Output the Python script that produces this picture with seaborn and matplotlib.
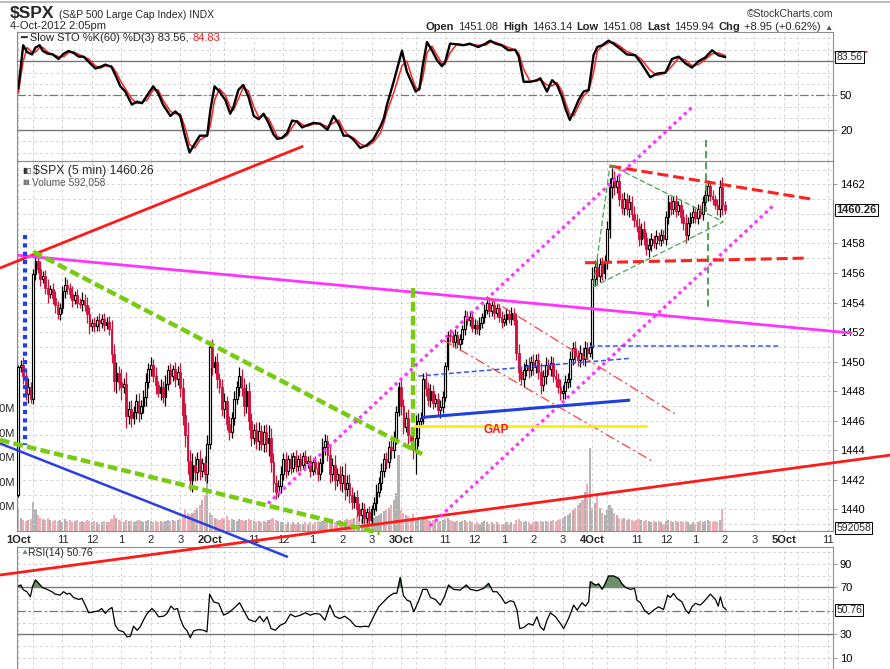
import numpy as np
import matplotlib
matplotlib.use("Agg")
import matplotlib.pyplot as plt
from matplotlib.lines import Line2D
import seaborn as sns

# ---- 5-minute bars, 1 Oct 9:30 .. 4 Oct 2:05pm ----
first_open = 1441.0
closes = [
    # 1 Oct
    1449.6, 1449.8, 1449.0, 1447.8, 1448.3, 1447.5, 1455.9, 1456.8, 1456.3, 1455.6,
    1455.8, 1455.0, 1454.6, 1454.9, 1454.3, 1453.8, 1453.2, 1453.6, 1454.8, 1455.2,
    1455.0, 1454.6, 1454.2, 1454.5, 1454.0, 1453.9, 1454.2, 1453.8, 1453.2, 1452.4,
    1452.6, 1452.4, 1452.8, 1452.6, 1452.9, 1452.5, 1452.7, 1452.2, 1450.5, 1448.7,
    1449.2, 1448.6, 1448.3, 1448.5, 1446.3, 1446.8, 1446.2, 1446.6, 1447.3, 1446.5,
    1447.0, 1447.6, 1448.6, 1449.5, 1449.8, 1449.0, 1448.4, 1447.9, 1448.3, 1447.6,
    1448.5, 1449.4, 1449.0, 1449.5, 1448.8, 1449.3, 1448.2, 1446.4, 1445.0, 1443.3,
    1442.0, 1443.0, 1442.5, 1443.4, 1442.6, 1443.1, 1442.4, 1444.4,
    # 2 Oct
    1451.0, 1449.6, 1450.0, 1448.8, 1448.3, 1446.8, 1447.3, 1445.8, 1445.2, 1446.2,
    1447.5, 1448.3, 1449.0, 1448.2, 1447.0, 1448.0, 1446.0, 1444.8, 1445.4, 1444.6,
    1445.3, 1444.4, 1445.2, 1444.5, 1444.8, 1443.2, 1441.8, 1441.2, 1441.6, 1442.4,
    1443.4, 1442.6, 1443.4, 1442.8, 1443.6, 1442.9, 1443.4, 1443.0, 1443.6, 1443.1,
    1443.3, 1442.6, 1443.2, 1442.8, 1442.4, 1443.1, 1444.2, 1444.6, 1443.7, 1442.4,
    1443.0, 1442.0, 1442.4, 1441.8, 1442.3, 1441.4, 1441.8, 1441.0, 1440.5, 1440.8,
    1440.0, 1439.6, 1440.0, 1439.4, 1439.8, 1439.3, 1440.0, 1440.4, 1441.2, 1441.8,
    1442.6, 1443.4, 1443.2, 1444.2, 1444.0, 1444.8, 1446.6, 1448.3,
    # 3 Oct
    1447.0, 1445.6, 1446.2, 1445.0, 1444.6, 1444.0, 1444.8, 1446.0, 1446.2, 1448.8,
    1448.2, 1447.4, 1448.0, 1447.2, 1447.5, 1446.7, 1446.9, 1447.6, 1449.7, 1451.8,
    1451.7, 1451.3, 1451.8, 1451.2, 1451.5, 1452.2, 1453.1, 1452.8, 1453.0, 1452.3,
    1452.5, 1452.2, 1452.6, 1453.0, 1453.5, 1454.0, 1453.4, 1453.8, 1453.3, 1453.6,
    1453.0, 1452.7, 1452.9, 1453.2, 1452.9, 1453.3, 1452.8, 1450.6, 1449.3, 1448.8,
    1449.4, 1449.8, 1449.4, 1450.0, 1449.6, 1450.1, 1449.3, 1448.4, 1449.0, 1449.8,
    1449.5, 1449.9, 1449.0, 1448.8, 1448.3, 1447.9, 1448.0, 1448.6, 1448.8, 1450.2,
    1450.9, 1450.4, 1450.1, 1450.6, 1450.2, 1450.9, 1450.6, 1451.0,
    # 4 Oct
    1455.6, 1456.4, 1455.8, 1456.6, 1456.0, 1456.8, 1459.0, 1461.8, 1462.4, 1461.8,
    1462.2, 1461.0, 1460.4, 1461.0, 1460.3, 1460.8, 1460.0, 1459.6, 1459.2, 1458.3,
    1459.0, 1458.4, 1457.6, 1457.9, 1458.3, 1458.0, 1458.5, 1458.2, 1458.6, 1458.3,
    1459.8, 1460.8, 1460.3, 1460.9, 1460.2, 1460.6, 1459.8, 1459.4, 1458.6, 1459.4,
    1459.8, 1460.1, 1459.7, 1460.3, 1460.0, 1460.8, 1461.3, 1461.9, 1461.2, 1461.0,
    1460.6, 1460.3, 1461.8, 1460.6, 1460.26,
]
wicks = [
    0.2, 0.3, 0.5, 0.4, 0.6, 0.3, 0.4, 0.4, 0.3, 0.5,
    0.3, 0.4, 0.6, 0.3, 0.4, 0.5, 0.3, 0.4, 0.3, 0.5,
    0.4, 0.3, 0.5, 0.3, 0.4, 0.3, 0.5, 0.4, 0.6, 0.5,
    0.3, 0.4, 0.3, 0.5, 0.3, 0.4, 0.3, 0.4, 0.6, 0.7,
    0.8, 0.5, 0.9, 0.4, 0.8, 0.5, 0.6, 0.4, 0.5, 0.6,
    0.4, 0.5, 0.6, 0.4, 0.5, 0.4, 0.6, 0.3, 0.5, 0.4,
    0.6, 0.4, 0.5, 0.3, 0.5, 0.4, 0.6, 0.7, 0.8, 0.9,
    0.7, 0.8, 0.6, 0.5, 0.6, 0.4, 0.5, 0.6,
    0.3, 0.5, 0.4, 0.6, 0.4, 0.5, 0.6, 0.4, 0.5, 0.4,
    0.5, 0.4, 0.6, 0.5, 0.7, 0.5, 0.6, 0.5, 0.4, 0.5,
    0.6, 0.4, 0.5, 0.6, 0.9, 0.7, 0.6, 0.5, 0.4, 0.5,
    0.4, 0.5, 0.3, 0.4, 0.3, 0.4, 0.3, 0.4, 0.3, 0.4,
    0.3, 0.4, 0.3, 0.4, 0.5, 0.4, 0.6, 0.5, 0.4, 0.6,
    0.5, 0.7, 0.4, 0.5, 0.6, 0.8, 0.5, 0.6, 0.5, 0.4,
    0.5, 0.4, 0.5, 0.4, 0.3, 0.4, 0.3, 0.4, 0.5, 0.4,
    0.5, 0.4, 0.5, 0.4, 0.6, 0.5, 0.4, 0.3,
    0.6, 0.5, 0.4, 0.6, 0.5, 0.6, 1.6, 0.5, 0.4, 0.4,
    0.5, 0.4, 0.5, 0.4, 0.3, 0.4, 0.5, 0.4, 0.3, 0.3,
    0.4, 0.3, 0.4, 0.3, 0.4, 0.3, 0.4, 0.3, 0.4, 0.3,
    0.4, 0.3, 0.4, 0.3, 0.4, 0.3, 0.4, 0.3, 0.4, 0.3,
    0.3, 0.4, 0.3, 0.4, 0.3, 0.4, 0.3, 0.5, 0.6, 0.4,
    0.5, 0.4, 0.5, 0.4, 0.5, 0.4, 0.5, 0.6, 0.4, 0.5,
    0.4, 0.5, 0.4, 0.5, 0.4, 0.5, 0.4, 0.5, 0.4, 0.5,
    0.4, 0.5, 0.4, 0.5, 0.4, 0.5, 0.4, 0.3,
    0.8, 0.5, 0.6, 0.4, 0.5, 0.4, 0.5, 0.6, 0.7, 0.5,
    0.4, 0.5, 0.4, 0.5, 0.4, 0.5, 0.4, 0.5, 0.4, 0.5,
    0.4, 0.5, 0.4, 0.5, 0.4, 0.3, 0.4, 0.3, 0.4, 0.3,
    0.4, 0.5, 0.4, 0.3, 0.4, 0.3, 0.4, 0.5, 0.6, 0.4,
    0.3, 0.4, 0.3, 0.4, 0.3, 0.4, 0.3, 0.4, 0.3, 0.4,
    0.3, 0.4, 0.5, 0.7, 0.3,
]
volumes_m = [
    8.5, 5.5, 4.5, 4.0, 4.5, 5.0, 12.0, 9.0, 6.5, 5.5,
    5.0, 4.5, 5.5, 4.5, 4.0, 4.5, 4.0, 4.5, 3.5, 5.0,
    4.0, 4.5, 3.5, 4.0, 4.5, 3.5, 4.0, 3.5, 4.5, 4.0,
    3.5, 4.0, 3.5, 3.0, 3.5, 4.0, 3.5, 3.5, 5.0, 6.5,
    5.5, 4.5, 4.0, 3.5, 4.5, 4.0, 4.0, 3.5, 4.0, 4.5,
    4.0, 3.5, 4.0, 4.5, 4.0, 3.5, 4.0, 3.5, 4.0, 3.5,
    4.0, 4.5, 4.0, 4.5, 4.0, 4.5, 5.0, 6.5, 8.5, 7.5,
    6.5, 7.5, 8.5, 9.5, 10.5, 12.5, 14.5, 29.0,
    7.5, 6.5, 5.5, 5.0, 4.5, 5.5, 5.0, 6.0, 4.5, 5.0,
    4.5, 4.0, 5.0, 4.5, 4.0, 4.5, 5.0, 4.5, 4.0, 3.5,
    4.0, 3.5, 4.0, 3.5, 4.5, 5.0, 5.5, 4.5, 4.0, 3.5,
    3.5, 3.0, 3.5, 3.0, 3.5, 3.0, 3.5, 3.0, 3.0, 3.5,
    3.0, 3.5, 3.0, 3.5, 4.0, 3.5, 4.0, 3.5, 4.0, 4.5,
    4.0, 3.5, 4.0, 4.5, 4.0, 4.5, 5.0, 4.5, 5.0, 5.5,
    6.0, 5.5, 5.0, 5.5, 5.0, 4.5, 5.0, 5.5, 6.0, 6.5,
    7.5, 8.0, 8.5, 9.5, 10.5, 12.5, 15.5, 31.0,
    8.5, 7.5, 6.5, 6.0, 5.5, 7.0, 5.5, 5.0, 4.5, 5.5,
    5.0, 4.5, 4.0, 4.5, 4.0, 3.5, 4.0, 4.5, 5.0, 5.5,
    4.5, 4.0, 3.5, 4.0, 3.5, 4.0, 4.5, 3.5, 4.0, 3.5,
    3.0, 3.5, 3.0, 3.5, 4.0, 3.5, 3.0, 3.5, 3.0, 3.5,
    3.0, 2.5, 3.0, 3.5, 3.0, 3.5, 3.0, 4.5, 5.0, 4.0,
    3.5, 4.0, 3.5, 3.0, 3.5, 4.0, 3.5, 4.0, 3.5, 4.0,
    3.5, 4.0, 4.5, 4.0, 4.5, 5.0, 5.5, 6.0, 6.5, 7.5,
    8.5, 9.5, 10.5, 11.5, 12.5, 16.0, 19.0, 34.0,
    9.5, 11.5, 15.0, 9.5, 7.5, 6.5, 8.5, 10.5, 9.5, 7.5,
    6.5, 5.5, 5.0, 5.5, 4.5, 5.0, 4.5, 4.0, 4.5, 5.0,
    4.5, 4.0, 4.5, 4.0, 3.5, 4.0, 3.5, 4.0, 3.5, 3.0,
    4.0, 4.5, 4.0, 3.5, 4.0, 3.5, 4.0, 3.5, 4.0, 3.5,
    3.0, 3.5, 3.0, 3.5, 4.0, 3.5, 4.0, 4.5, 4.0, 3.5,
    4.0, 3.5, 4.5, 9.0, 0.592058,
]

# ---- indicators (bar position, value) ----
sto_bars = [
    0, 2, 3.6, 5.6, 7, 8.7, 10, 12, 14, 16.4, 18.5, 20.5,
    22.6, 24.6, 26.6, 28.7, 31.4, 33.4, 35.5, 38, 40, 41.6, 43.6, 46.3,
    48.4, 50.4, 52.5, 55, 57, 59, 62, 64, 66, 68, 69.8, 72,
    74, 77, 78.3, 80, 82, 84.4, 86.4, 87.7, 89.7, 91.7, 93.8, 96,
    98, 100, 102, 104, 105.5, 107.5, 109.6, 111.6, 113.6, 115.7, 117.8, 120.4,
    123, 126, 128.5, 130.6, 132.6, 134.6, 136.6, 139.4, 142, 144.7, 147.6, 149,
    150.3, 153, 156.4, 158.4, 160.5, 162, 163.5, 165, 166.6, 168.6, 170.7, 172.7,
    174, 176, 178.8, 181.5, 184, 187.5, 190.4, 192.4, 194.5, 197, 199.8, 202.6,
    204, 206, 208.7, 211.4, 212.8, 215.5, 217.6, 219.6, 221.6, 223, 224.8, 226.4,
    228.4, 230.4, 232.5, 234.5, 236, 238, 240.6, 242.6, 245.3, 248, 251.5, 254,
    257.6, 260.4, 263.8, 266.5, 269.2, 272, 274.6, 277.3, 280, 282.8, 285.4, 288.2,
]
sto_k = [
    56, 94, 88, 86, 92, 94, 89, 86.6, 86, 82, 86.6, 89,
    87.2, 84, 84, 79.4, 73.6, 75, 77, 75, 66, 58, 53.4, 42,
    44.6, 43.2, 50, 58, 52, 42, 32, 36, 32, 14, 0, 8,
    14.8, 14.8, 37.4, 58, 53.4, 46, 34, 40, 54.8, 59.2, 49, 32,
    29.2, 34, 26, 16, 12, 12.8, 17.2, 28, 27.2, 22, 24, 26,
    25.2, 20, 32, 25, 14.8, 14.8, 11.4, 4, 6.4, 11.4, 22.8, 30,
    42, 62, 89.2, 70.8, 60.6, 53.4, 56, 78, 96.8, 89.6, 80.8, 75.6,
    79.4, 95.4, 94.8, 94, 95.4, 92.4, 95.4, 98, 95.4, 94, 89.6, 90,
    84, 62, 62, 63.4, 65, 53.4, 63.4, 59.2, 49, 38.8, 28.6, 36,
    46, 53.4, 54.8, 85.2, 92.4, 94, 98, 95.4, 91, 86, 85.2, 78,
    66, 69.2, 70, 82, 84, 78, 74.4, 80, 83.2, 89.6, 85.2, 83.56,
]
sto_d = [
    52, 80, 92, 88, 88, 92, 92, 88, 86, 84, 84, 87.6,
    88, 86, 84, 82, 76, 74, 76, 76, 70, 63, 56, 47,
    43, 44, 46, 55, 55, 46, 36, 34, 34, 22, 7, 4,
    11, 14.8, 24, 46, 56, 50, 40, 37, 47, 57, 54, 40,
    31, 32, 30, 21, 14, 12.4, 15, 22, 28, 24.6, 23, 25,
    25.6, 22.6, 26, 28.6, 20, 14.8, 13, 7.6, 5.2, 9, 17, 26,
    36, 52, 76, 80, 65.6, 57, 54.6, 67, 87.4, 93.2, 85.2, 78,
    77.4, 87.4, 95, 94.4, 94.6, 94, 94, 96.6, 96.6, 94.6, 92, 90,
    87, 73, 62, 62.6, 64, 59.2, 58.4, 61.2, 54, 44, 33.6, 32,
    41, 49.6, 54, 70, 88.8, 93.2, 96, 96.6, 93.2, 88.6, 85.6, 81.6,
    72, 67.6, 69.6, 76, 83, 81, 76, 77.2, 81.6, 86.4, 87.4, 84.83,
]
rsi_bars = [
    0, 1, 2, 3.5, 4.9, 5.8, 7, 8.3, 9.7, 11.7,
    13.7, 15, 17, 18.5, 19.8, 21, 22.5, 24.6, 26, 27.3,
    28.7, 30.7, 32.7, 34, 35.5, 36.8, 38.2, 39.5, 40.9, 42.9,
    44.3, 45.7, 47, 48.4, 49.7, 51, 52.5, 54.5, 55.8, 57.2,
    59.2, 60.6, 62.2, 63.6, 64.9, 66, 67.4, 68.8, 70.1, 71.5,
    73.5, 75.5, 76.9, 78, 79.6, 81.7, 83.7, 85.7, 87.8, 90.2,
    91.8, 93.9, 96.6, 98.4, 100, 101.4, 103, 104.8, 106.8, 108.8,
    110.9, 112.9, 115, 117, 119, 121, 123, 125, 127, 129,
    131, 133, 135.3, 137.4, 139.4, 141.5, 142.8, 144.8, 146.9, 148.9,
    150.9, 153, 154.3, 155.7, 157, 158.5, 159.8, 161.2, 163.2, 164.9,
    166.6, 168, 170, 172, 173.7, 175.4, 177.4, 180.2, 182.6, 184.3,
    187, 189.7, 191.7, 193.5, 195.1, 196.8, 198.5, 200.6, 202, 203.3,
    204.4, 206, 208, 209.8, 211.4, 212.8, 214.2, 215.5, 216.9, 219,
    221, 222.3, 224.3, 226.4, 227.8, 229.8, 231.2, 232.5, 233.2, 235.2,
    236.6, 238, 239.3, 240.6, 242.7, 244.7, 246.1, 247.5, 249.5, 251.2,
    252.2, 253.6, 255.2, 257, 259, 261, 263, 264.7, 265.8, 267.1,
    268.5, 270.5, 271.9, 273.3, 274.6, 276, 278, 279.4, 282.1, 284.2,
    285.3, 286.2, 287.3, 288.6,
]
rsi_vals = [
    71, 72, 68, 66.3, 62, 70.6, 76.3, 73.4, 70, 68.3,
    66.3, 64.3, 63.4, 66.3, 64.3, 65, 61.4, 59.7, 60.6, 54.9,
    48.3, 49.1, 50, 52, 47.7, 51, 52.9, 37.7, 33.4, 32,
    27.7, 28.3, 36.9, 33.4, 36.3, 42, 47.7, 52, 49.1, 44.9,
    45.4, 47.7, 54, 51.1, 52, 43.4, 36.3, 32.9, 27.1, 32.9,
    34, 33.4, 32, 64.3, 57.7, 56.3, 46.3, 48.3, 52, 56.9,
    50.6, 42.6, 40.6, 45.4, 40.6, 44.9, 34.9, 33.4, 37.7, 39.7,
    47.1, 44.9, 46.3, 48.3, 46.3, 47.7, 47.1, 42, 54.9, 45.4,
    43.4, 45.4, 42, 36.9, 36.3, 36.9, 36.3, 44.9, 53.4, 57.7,
    62, 65, 65, 78.5, 63, 59, 58, 49.1, 58.5, 68.3,
    68.3, 61.4, 59.7, 54.9, 62, 72, 68.3, 67.7, 72, 68.3,
    67.1, 69.1, 73.4, 66.3, 66.3, 62, 56.3, 58.6, 57.7, 50.6,
    34.9, 35.7, 39.1, 37.7, 44.9, 36.3, 33.4, 42, 48.3, 44.9,
    39.1, 34.9, 43.4, 54.9, 50.6, 56.9, 54, 57.7, 74.9, 72,
    72.9, 68.3, 73.4, 79.7, 79.7, 77.7, 72.9, 70, 68.3, 69.1,
    59.1, 56.9, 50.6, 47.1, 50.6, 53.4, 51.1, 63.4, 61.4, 64.9,
    60.6, 57.7, 51.1, 47.7, 53.4, 56.3, 54.9, 57.7, 64.3, 59.7,
    54, 62, 53.4, 50.76,
]

day_labels = ['1Oct', '2Oct', '3Oct', '4Oct', '5Oct']
hour_labels = ['11', '12', '1', '2', '3']
bars_per_day = 78
price_ticks = list(range(1440, 1463, 2))
vol_ticks = [10, 20, 30, 40, 50]

# hand-drawn trendlines (bar position, price)
red_upper = ([-7.5, 116.2], [1456.33, 1464.59])
red_lower = ([-7.5, 355.5], [1435.55, 1443.67])
magenta_line = ([-0.3, 339.9], [1457.2, 1451.93])
green_upper = ([6.1, 164.6], [1457.44, 1443.74])
green_lower = ([-7.5, 147.4], [1444.69, 1438.39])
blue_lower = ([-7.5, 109.9], [1444.46, 1436.77])
blue_vertical = ([2.65, 2.65], [1458.57, 1444.35])
green_vertical = ([160.7, 160.7], [1454.98, 1443.8])
magenta_dots_upper = ([101.8, 275.1], [1440.39, 1467.3])
magenta_dots_lower = ([167.8, 308.5], [1438.87, 1460.67])
red_dashdot_a = ([190.9, 268.4], [1454.39, 1446.38])
red_dashdot_b = ([173.3, 258.9], [1451.45, 1443.22])
blue_dash_a = ([163.1, 249.4], [1449.02, 1450.22])
blue_dash_b = ([233.1, 310.5], [1451.05, 1451.05])
blue_support = ([164.5, 249.4], [1446.22, 1447.39])
gap_line = ([161.0, 256.2], [1445.66, 1445.66])
gap_label = (194.7, 1445.4)
red_dash_top = ([241.2, 324.1], [1463.24, 1460.98])
red_dash_bottom = ([231.0, 322.1], [1456.69, 1457.01])
green_triangle = ([241.2, 287.4, 234.4, 241.2], [1463.31, 1459.47, 1455.07, 1463.31])
green_mark_a = ([280.2, 280.2], [1465.0, 1460.14])
green_mark_b = ([281.3, 281.3], [1459.45, 1453.5])

# ---- style ----
sns.set_theme(style="white")
plt.rcParams['font.family'] = ['Liberation Sans', 'DejaVu Sans']
plt.rcParams['lines.scale_dashes'] = False

RED = '#d0103a'
GRID = '#cdcdcd'
FRAME = '#8c8c8c'
W, H = 890, 669
XMIN, XMAX = -0.53, 332.1

fig = plt.figure(figsize=(W / 100, H / 100), dpi=100)
fig.patch.set_facecolor('white')


def rect(l, t, r, b):
    return [l / W, 1 - b / H, (r - l) / W, (b - t) / H]


def fx(x):
    return x / W


def fy(y):
    return 1 - y / H


ax_sto = fig.add_axes(rect(17, 32, 833, 161))
ax_rsi = fig.add_axes(rect(17, 547, 833, 672))
ax_main = fig.add_axes(rect(17, 161, 833, 531))
ax_vol = ax_main.twinx()
ax_sto.set_zorder(0)
ax_rsi.set_zorder(0)
ax_vol.set_zorder(1)
ax_main.set_zorder(2)
ax_main.patch.set_visible(False)

# time grid: day starts + each full hour (10:00 .. 15:00)
hour_offsets = [(h * 60 - 570) // 5 for h in range(10, 16)]
grid_x = [d * bars_per_day + o for d in range(5) for o in [0] + hour_offsets]
grid_x = [g for g in grid_x if g < XMAX]
label_pos, label_txt = [], []
for d, name in enumerate(day_labels):
    label_pos.append(d * bars_per_day)
    label_txt.append(name)
    for off, hl in zip(hour_offsets[1:], hour_labels):
        if d * bars_per_day + off < XMAX:
            label_pos.append(d * bars_per_day + off)
            label_txt.append(hl)

for ax in (ax_sto, ax_main, ax_rsi):
    ax.set_xlim(XMIN, XMAX)
    for g in grid_x:
        ax.axvline(g, color=GRID, lw=0.6, dashes=(2, 2), zorder=0)
    for s in ax.spines.values():
        s.set_color(FRAME)
        s.set_linewidth(0.8)
    ax.yaxis.tick_right()
    ax.tick_params(axis='y', direction='out', length=3, width=0.6, color=FRAME,
                   labelsize=8, labelcolor='black', pad=2)
    ax.tick_params(axis='x', length=0)
    ax.grid(False)

# ---- Slow STO panel ----
ax_sto.set_ylim(-7.4, 105.6)
for lv in range(0, 101, 10):
    ax_sto.axhline(lv, color=GRID, lw=0.6, dashes=(2, 2), zorder=0)
ax_sto.axhline(80, color='#777777', lw=1.0, zorder=1)
ax_sto.axhline(20, color='#777777', lw=1.0, zorder=1)
ax_sto.axhline(50, color='#777777', lw=0.9, dashes=(6, 2, 1.5, 2), zorder=1)
sns.lineplot(x=sto_bars, y=sto_d, ax=ax_sto, color='#ff2020', lw=1.1, estimator=None, sort=False)
sns.lineplot(x=sto_bars, y=sto_k, ax=ax_sto, color='black', lw=1.7, estimator=None, sort=False)
# the 80 label sits under the value box, as on the original
ax_sto.set_yticks([20, 50, 80])
ax_sto.set_yticklabels(['20', '50', ''])
ax_sto.set_xticks([])
ax_sto.set_xlabel('')
ax_sto.set_ylabel('')

# ---- RSI panel ----
ax_rsi.set_ylim(-2.25, 104.5)
for lv in range(0, 101, 10):
    ax_rsi.axhline(lv, color=GRID, lw=0.6, dashes=(2, 2), zorder=0)
ax_rsi.axhline(70, color='#777777', lw=1.0, zorder=1)
ax_rsi.axhline(30, color='#777777', lw=1.0, zorder=1)
ax_rsi.axhline(50, color='#777777', lw=0.9, dashes=(6, 2, 1.5, 2), zorder=1)
rb = np.array(rsi_bars)
rv = np.array(rsi_vals)
ax_rsi.fill_between(rb, rv, 70, where=rv > 70, interpolate=True, color='#6d8f6d', zorder=2)
sns.lineplot(x=rsi_bars, y=rsi_vals, ax=ax_rsi, color='black', lw=0.9, estimator=None, sort=False)
ax_rsi.set_yticks([10, 30, 70, 90])
ax_rsi.set_xticks([])
ax_rsi.set_xlabel('')
ax_rsi.set_ylabel('')

# ---- price panel ----
c = np.array(closes)
o = np.concatenate([[first_open], c[:-1]])
w = np.array(wicks)
xb = np.arange(len(c))
up = c >= o
hi = np.maximum(o, c) + w
lo = np.minimum(o, c) - w
body = np.maximum(np.abs(c - o), 0.06)
bottom = np.minimum(o, c)

ax_main.set_ylim(1438.53, 1463.58)
for lv in range(1439, 1464):
    ax_main.axhline(lv, color=GRID, lw=0.6, dashes=(2, 2), zorder=0)

# volume underlay
vol = np.array(volumes_m)
ax_vol.set_ylim(0, 151)
ax_vol.bar(xb[up], vol[up], width=0.85, color='#b2b2b2', lw=0)
ax_vol.bar(xb[~up], vol[~up], width=0.85, color='#f2abb2', lw=0)
ax_vol.yaxis.tick_left()
ax_vol.set_yticks(vol_ticks)
ax_vol.set_yticklabels([f'{v}M' for v in vol_ticks])
ax_vol.tick_params(axis='y', length=0, labelsize=8, pad=1.5)
for s in ax_vol.spines.values():
    s.set_visible(False)
ax_vol.grid(False)
ax_main.yaxis.tick_right()

ax_main.vlines(xb[up], lo[up], hi[up], color='black', lw=0.9, zorder=3)
ax_main.vlines(xb[~up], lo[~up], hi[~up], color=RED, lw=0.9, zorder=3)
ax_main.bar(xb[up], body[up], bottom=bottom[up], width=0.72, facecolor='white',
            edgecolor='black', lw=0.85, zorder=4)
ax_main.bar(xb[~up], body[~up], bottom=bottom[~up], width=0.72, color=RED,
            edgecolor=RED, lw=0.6, zorder=4)


def trend(line, color, lw, dashes=None, z=5):
    xs, ys = line
    ln, = ax_main.plot(xs, ys, color=color, lw=lw, clip_on=False, zorder=z,
                       solid_capstyle='butt', dash_capstyle='butt')
    if dashes:
        ln.set_dashes(dashes)


trend(red_upper, '#ff1a1a', 2.0)
trend(red_lower, '#ff1a1a', 2.0)
trend(magenta_line, '#ff33ff', 2.0)
trend(blue_lower, '#2a3fe0', 1.8)
trend(green_upper, '#77cc11', 3.2, (7, 3))
trend(green_lower, '#77cc11', 3.2, (7, 3))
trend(blue_vertical, '#1f3df5', 3.0, (3, 3))
trend(green_vertical, '#77cc11', 3.2, (7, 3))
trend(magenta_dots_upper, '#ff33ff', 2.3, (2.3, 2.7))
trend(magenta_dots_lower, '#ff33ff', 2.3, (2.3, 2.7))
trend(red_dashdot_a, '#ff4040', 0.9, (7, 2.5, 1.5, 2.5))
trend(red_dashdot_b, '#ff4040', 0.9, (7, 2.5, 1.5, 2.5))
trend(blue_dash_a, '#3355ff', 1.1, (3.5, 2))
trend(blue_dash_b, '#3355ff', 1.1, (3.5, 2))
trend(blue_support, '#1f3fe0', 2.2)
trend(gap_line, '#ffee00', 2.0)
trend(red_dash_top, '#ff2020', 2.2, (8, 3.5))
trend(red_dash_bottom, '#ff2020', 2.2, (8, 3.5))
trend(green_triangle, '#44aa44', 0.9, (4, 2))
trend(green_mark_a, '#228822', 1.1, (5, 3))
trend(green_mark_b, '#228822', 1.1, (5, 3))
ax_main.text(*gap_label, 'GAP', color='#ff1a1a', weight='bold', fontsize=8.5,
             ha='center', va='center', zorder=6)

# the 1460 label is hidden by the last-price box, as on the original
ax_main.set_yticks(price_ticks)
ax_main.set_yticklabels(['' if p == 1460 else str(p) for p in price_ticks])
ax_main.set_xticks(label_pos)
ax_main.set_xticklabels(label_txt)
ax_main.tick_params(axis='x', length=0, labelsize=8, pad=3)
for t in ax_main.get_xticklabels():
    if 'Oct' in t.get_text():
        t.set_fontweight('bold')

# ---- value boxes on the right axis ----
box = dict(boxstyle='square,pad=0.12', fc='white', ec='black', lw=0.7)
ax_sto.plot([1.003, 1.042], [sto_d[-1] + 3.2] * 2, color='#ff2020', lw=1.2,
            transform=ax_sto.get_yaxis_transform(), clip_on=False, zorder=8)
ax_sto.annotate(f'{sto_k[-1]:.2f}', xy=(1.004, sto_k[-1]), xycoords=('axes fraction', 'data'),
                fontsize=7.5, va='center', ha='left', bbox=box, zorder=9)
ax_main.annotate(f'{closes[-1]:.2f}', xy=(1.004, closes[-1]), xycoords=('axes fraction', 'data'),
                 fontsize=8, weight='bold', va='center', ha='left', bbox=box, zorder=9,
                 annotation_clip=False)
ax_vol.annotate(f'{round(volumes_m[-1] * 1e6)}', xy=(1.004, 1.2),
                xycoords=('axes fraction', 'data'), fontsize=7.5, va='center', ha='left',
                bbox=box, zorder=9, annotation_clip=False)
ax_rsi.annotate(f'{rsi_vals[-1]:.2f}', xy=(1.004, rsi_vals[-1]), xycoords=('axes fraction', 'data'),
                fontsize=7.5, va='center', ha='left', bbox=box, zorder=9)

# ---- panel captions ----
t = fig.text(fx(20), fy(38), '━ Slow STO %K(60) %D(3) 83.56,', fontsize=8, va='center')
ax_sto.annotate('84.83', xy=(1, 0), xycoords=t, xytext=(2.5, 0), textcoords='offset points',
                va='bottom', ha='left', fontsize=8, color='#ff2020', annotation_clip=False)
fig.text(fx(22), fy(171), '▮▯', fontsize=6, va='center', color='#333333')
fig.text(fx(33), fy(171), '$SPX (5 min) 1460.26', fontsize=8.8, va='center')
fig.text(fx(22), fy(182), '▮▮', fontsize=5, va='center', color='#777777')
fig.text(fx(32), fy(182), 'Volume 592,058', fontsize=7.3, va='center', color='#555555')
fig.text(fx(20), fy(553), '▲', fontsize=6, va='center', color='#6d8f6d')
fig.text(fx(28), fy(553), 'RSI(14) 50.76', fontsize=7.5, va='center')

# ---- header ----
fig.add_artist(Line2D([0, 1], [fy(1.5), fy(1.5)], color='#b0b0b0', lw=1.2))
h = fig.text(fx(10), fy(21), '$SPX', fontsize=12.5, weight='bold', va='bottom')
ax_sto.annotate('(S&P 500 Large Cap Index) INDX', xy=(1, 0), xycoords=h, xytext=(3, 1),
                textcoords='offset points', va='bottom', ha='left', fontsize=7.5,
                annotation_clip=False)
fig.text(fx(833), fy(14), '©StockCharts.com', fontsize=7.5, ha='right', va='center', color='#333333')
fig.text(fx(10), fy(26), '4-Oct-2012 2:05pm', fontsize=8, va='center')

pieces = [('▲', dict(fontsize=6, color='#555555')),
          ('+8.95 (+0.62%)', dict(fontsize=8)),
          ('Chg', dict(fontsize=8, weight='bold')),
          ('1459.94', dict(fontsize=8)),
          ('Last', dict(fontsize=8, weight='bold')),
          ('1451.08', dict(fontsize=8)),
          ('Low', dict(fontsize=8, weight='bold')),
          ('1463.14', dict(fontsize=8)),
          ('High', dict(fontsize=8, weight='bold')),
          ('1451.08', dict(fontsize=8)),
          ('Open', dict(fontsize=8, weight='bold'))]
prev = fig.text(fx(833), fy(31.5), pieces[0][0], ha='right', va='bottom', **pieces[0][1])
for txt, kw in pieces[1:]:
    prev = ax_sto.annotate(txt, xy=(0, 0), xycoords=prev, xytext=(-3, 0),
                           textcoords='offset points', ha='right', va='bottom',
                           annotation_clip=False, **kw)

fig.savefig('out.png', dpi=100)
